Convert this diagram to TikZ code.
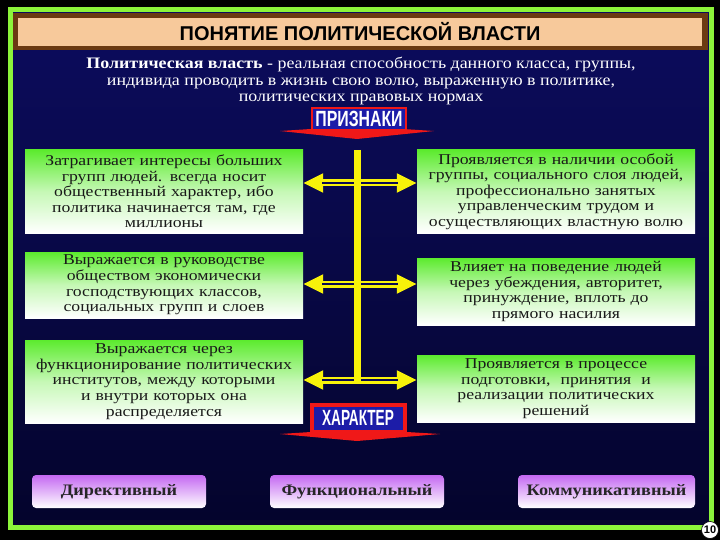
\documentclass[tikz,border=0pt]{standalone}
\usepackage{fontspec}
\setmainfont{Liberation Serif}
\newfontfamily\titlefont{Liberation Sans}
\newfontfamily\deffont[FakeStretch=1.12]{Liberation Serif}
\newfontfamily\boxfont[FakeStretch=1.18]{Liberation Serif}
\newfontfamily\botfont[FakeStretch=1.14]{Liberation Serif}
\usetikzlibrary{arrows.meta,calc}
\definecolor{limeG}{HTML}{8CF53A}
\definecolor{navyT}{HTML}{0C0C5E}
\definecolor{navyB}{HTML}{04042C}
\definecolor{brownT}{HTML}{6B3A12}
\definecolor{peach}{HTML}{F7C99B}
\definecolor{boxG}{HTML}{5CEB2E}
\definecolor{ylw}{HTML}{F8F20A}
\definecolor{lblue}{HTML}{1C1CA8}
\definecolor{lred}{HTML}{F01818}
\definecolor{purp}{HTML}{C468F2}
\tikzset{
  greenbox/.style={top color=boxG, bottom color=white, middle color=boxG!35!white,
    minimum width=278pt, inner sep=0pt, text width=276pt, align=center,
    font=\boxfont\fontsize{15}{15.6}\selectfont, text=black!90},
  purpbox/.style={top color=purp, bottom color=white, rounded corners=4pt,
    minimum height=33pt, inner sep=0pt, font=\botfont\fontsize{16}{18}\selectfont\bfseries,
    text=black!85},
  shaft/.style={draw=ylw, line width=7pt, -{Triangle[width=18pt,length=20pt]}},
  gap/.style={draw=navyT!80!navyB, line width=1.6pt, shorten >=19pt},
  lbl/.style={fill=lblue, text=white, inner sep=0pt,
    font=\fontsize{22}{22}\titlefont\bfseries},
}
\begin{document}
\begin{tikzpicture}[x=1pt,y=-1pt]
\useasboundingbox (0,0) rectangle (720,540);
\fill[black] (0,0) rectangle (720,540);
\shade[top color=navyT, bottom color=navyB] (10,10) rectangle (711,527);
\draw[limeG, line width=5pt] (10,10) rectangle (711,527);
% title
\fill[brownT] (13,13) rectangle (708,50);
\fill[peach] (18,18) rectangle (702,46);
\node[font=\fontsize{20}{20}\titlefont\bfseries, text=black] (title) at (360,32) {ПОНЯТИЕ ПОЛИТИЧЕСКОЙ ВЛАСТИ};
% definition
\node[text=white, align=center, font=\deffont\fontsize{16}{16.5}\selectfont] (def) at (361,81)
 {{\bfseries Политическая власть} - реальная способность данного класса, группы,\\
  индивида проводить в жизнь свою волю, выраженную в политике,\\
  политических правовых нормах};
% ПРИЗНАКИ
\fill[lred] (280,131) -- (357,126) -- (434,131) -- (357,139) -- cycle;
\node[lbl, draw=lred, line width=1.2pt, minimum width=94pt, minimum height=22pt] (priz) at (359,119)
 {\scalebox{0.72}[1]{ПРИЗНАКИ}};
% boxes
\node[greenbox, minimum height=83pt] (L1) at (164,191.5)
 {Затрагивает интересы больших\\ групп людей. всегда носит\\ общественный характер, ибо\\ политика начинается там, где\\ миллионы};
\node[greenbox, minimum height=66pt] (L2) at (164,285)
 {Выражается в руководстве\\ обществом экономически\\ господствующих классов,\\ социальных групп и слоев};
\node[greenbox, minimum height=83pt] (L3) at (164,381.5)
 {Выражается через\\ функционирование политических\\ институтов, между которыми\\ и внутри которых она\\ распределяется};
\node[greenbox, minimum height=83pt] (R1) at (556,191.5)
 {Проявляется в наличии особой\\ группы, социального слоя людей,\\ профессионально занятых\\ управленческим трудом и\\ осуществляющих властную волю};
\node[greenbox, minimum height=67pt] (R2) at (556,291.5)
 {Влияет на поведение людей\\ через убеждения, авторитет,\\ принуждение, вплоть до\\ прямого насилия};
\node[greenbox, minimum height=67pt] (R3) at (556,388.5)
 {Проявляется в процессе\\ подготовки,\ \ принятия\ \ и\\ реализации политических\\ решений};
% connectors
\coordinate (c1) at (357.5,183);
\coordinate (c2) at (357.5,284);
\coordinate (c3) at (357.5,380);
\coordinate (vtop) at (357.5,150);
\coordinate (vbot) at (357.5,383.5);
\foreach \c/\l/\r in {c1/L1/R1, c2/L2/R2, c3/L3/R3}{
  \draw[shaft] (\c) -- (\l.east |- \c);
  \draw[shaft] (\c) -- (\r.west |- \c);
  \draw[gap] (\c) -- (\l.east |- \c);
  \draw[gap] (\c) -- (\r.west |- \c);
}
\draw[ylw, line width=7pt] (vtop) -- (vbot);
% ХАРАКТЕР
\fill[lred] (280,434) -- (357,429) -- (440,434) -- (357,441) -- cycle;
\node[lbl, draw=lred, line width=4pt, minimum width=93pt, minimum height=27pt] (har) at (358,418)
 {\scalebox{0.62}[1]{ХАРАКТЕР}};
% bottom boxes
\node[purpbox, minimum width=174pt] (B1) at (119,491.5) {Директивный};
\node[purpbox, minimum width=174pt] (B2) at (357,491.5) {Функциональный};
\node[purpbox, minimum width=177pt] (B3) at (606.5,491.5) {Коммуникативный};
% page number
\node[circle, fill=white, draw=black, line width=0.6pt, inner sep=0.5pt, minimum size=17pt,
  font=\fontsize{11}{11}\titlefont\bfseries] (pg) at (710,530) {10};
\end{tikzpicture}
\end{document}
